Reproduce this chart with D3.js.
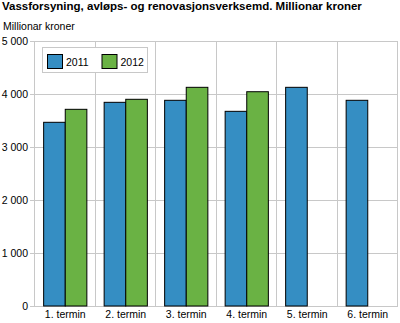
<!DOCTYPE html>
<html>
<head>
<meta charset="utf-8">
<script src="https://cdn.jsdelivr.net/npm/d3@7"></script>
<style>
  html, body { margin: 0; padding: 0; background: #fff; }
  svg { display: block; font-family: "Liberation Sans", Arial, sans-serif; }
</style>
</head>
<body>
<svg id="chart" width="400" height="323"></svg>
<script>
// Periods (two-month terms) and values in million NOK
const categories = ["1. termin", "2. termin", "3. termin", "4. termin", "5. termin", "6. termin"];
const seriesNames = ["2011", "2012"];
const values2011 = [3466, 3843, 3881, 3673, 4126, 3881];
const values2012 = [3711, 3900, 4126, 4043, null, null];
const yTicks = [0, 1000, 2000, 3000, 4000, 5000];
const colors = ["#358ec3", "#6ab244"];

const svg = d3.select("#chart");
const margin = { left: 35, right: 2, top: 41, bottom: 17 };
const W = 400, H = 323;

const x = d3.scaleBand().domain(categories).range([margin.left, W - margin.right]).paddingInner(0).paddingOuter(0);
const xInner = d3.scaleBand().domain(seriesNames).range([0, x.bandwidth()]).paddingOuter(0.4).paddingInner(0);
const y = d3.scaleLinear().domain([0, 5000]).range([H - margin.bottom, margin.top]);

const fmt = v => d3.format(",")(v).replace(/,/g, " ");

// Title
svg.append("text").attr("x", 2).attr("y", 10)
  .attr("font-size", 11.5).attr("font-weight", "bold").attr("fill", "#000")
  .text("Vassforsyning, avløps- og renovasjonsverksemd. Millionar kroner");

svg.append("text").attr("x", 3).attr("y", 30)
  .attr("font-size", 10.5).attr("fill", "#000")
  .text("Millionar kroner");

// Horizontal grid lines
svg.append("g").selectAll("line").data(yTicks.filter(d => d > 0)).join("line")
  .attr("x1", margin.left).attr("x2", W - margin.right)
  .attr("y1", d => Math.round(y(d)) + 0.5).attr("y2", d => Math.round(y(d)) + 0.5)
  .attr("stroke", "#c8c8c8").attr("stroke-width", 1);

// Vertical grid lines at category boundaries
const bounds = categories.map(c => x(c)).concat([x(categories[categories.length - 1]) + x.bandwidth()]);
svg.append("g").selectAll("line").data(bounds.slice(1)).join("line")
  .attr("x1", d => Math.round(d) - 0.5).attr("x2", d => Math.round(d) - 0.5)
  .attr("y1", margin.top).attr("y2", y(0))
  .attr("stroke", "#c8c8c8").attr("stroke-width", 1);

// Axes lines
svg.append("line").attr("x1", margin.left - 0.5).attr("x2", margin.left - 0.5)
  .attr("y1", margin.top).attr("y2", y(0) + 0.5).attr("stroke", "#c8c8c8");
svg.append("line").attr("x1", margin.left).attr("x2", W - margin.right)
  .attr("y1", Math.round(y(0)) + 0.5).attr("y2", Math.round(y(0)) + 0.5).attr("stroke", "#c8c8c8");
// Tick marks on y axis
svg.append("g").selectAll("line").data(yTicks).join("line")
  .attr("x1", margin.left - 5).attr("x2", margin.left)
  .attr("y1", d => Math.round(y(d)) + 0.5).attr("y2", d => Math.round(y(d)) + 0.5)
  .attr("stroke", "#c8c8c8");

// Y tick labels
svg.append("g").selectAll("text").data(yTicks).join("text")
  .attr("x", 28).attr("y", d => y(d) + 4)
  .attr("text-anchor", "end").attr("font-size", 10.5).attr("fill", "#000")
  .text(fmt);

// Bars
const rows = categories.map((c, i) => ({ cat: c, vals: [values2011[i], values2012[i]] }));
const groups = svg.append("g").selectAll("g").data(rows).join("g")
  .attr("transform", d => `translate(${x(d.cat)},0)`);
groups.selectAll("rect")
  .data(d => d.vals.map((v, j) => ({ name: seriesNames[j], v, j })).filter(e => e.v != null))
  .join("rect")
  .attr("x", e => xInner(e.name))
  .attr("width", xInner.bandwidth())
  .attr("y", e => y(e.v))
  .attr("height", e => y(0) - y(e.v))
  .attr("fill", e => colors[e.j])
  .attr("stroke", "#000").attr("stroke-width", 1);

// X labels
svg.append("g").selectAll("text").data(categories).join("text")
  .attr("x", d => x(d) + x.bandwidth() / 2).attr("y", 318)
  .attr("text-anchor", "middle").attr("font-size", 10.5).attr("fill", "#000")
  .text(d => d);

// Legend
const lg = svg.append("g");
lg.append("rect").attr("x", 42.5).attr("y", 47.5).attr("width", 105).attr("height", 25)
  .attr("fill", "#fff").attr("stroke", "#c8c8c8");
const items = lg.selectAll("g").data(seriesNames).join("g")
  .attr("transform", (d, i) => `translate(${47.5 + i * 54.5},54.5)`);
items.append("rect").attr("width", 15).attr("height", 14)
  .attr("fill", (d, i) => colors[i]).attr("stroke", "#000");
items.append("text").attr("x", 18.5).attr("y", 11.5)
  .attr("font-size", 10.5).attr("fill", "#000").text(d => d);
</script>
</body>
</html>
